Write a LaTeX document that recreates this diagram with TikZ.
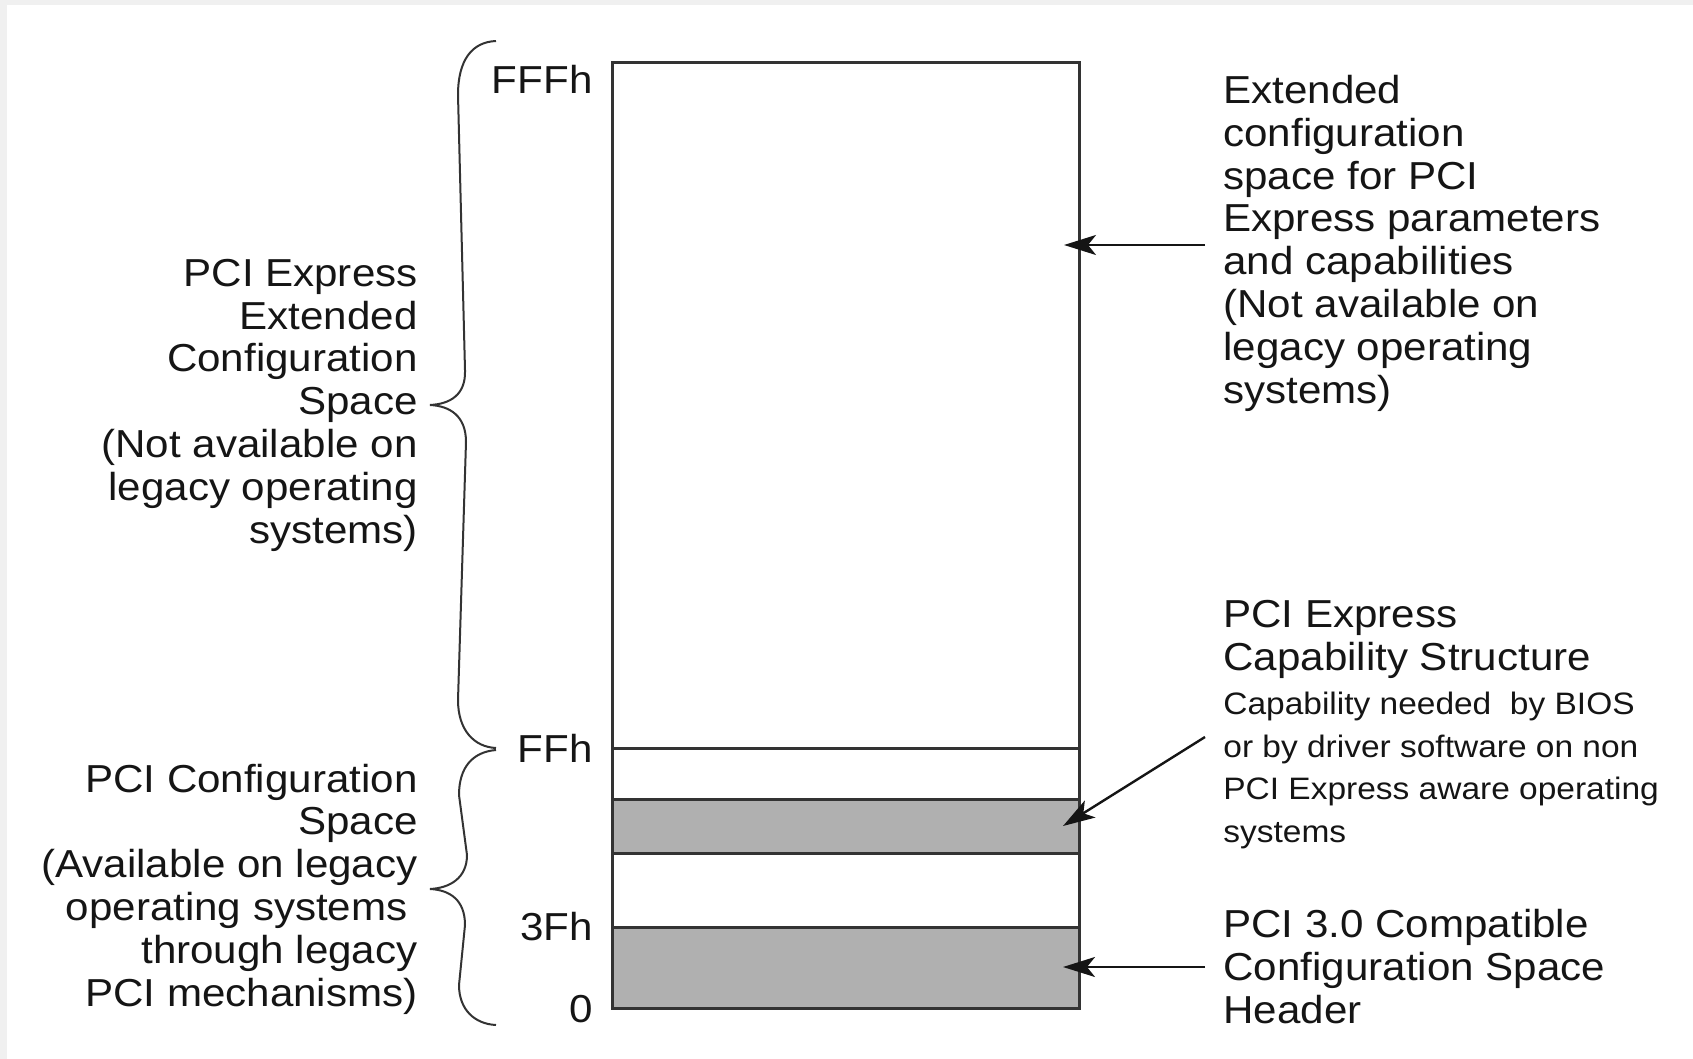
\documentclass[tikz,border=0pt]{standalone}
\usepackage{fontspec}
\setmainfont{Liberation Sans}
\newfontfamily\bigfont{Liberation Sans}[FakeStretch=1.08]
\usetikzlibrary{arrows.meta}
\definecolor{txt}{HTML}{151515}
\definecolor{ln}{HTML}{333333}
\definecolor{cellgray}{HTML}{B0B0B0}
\definecolor{edge}{HTML}{F0F0F0}
\tikzset{
  bigtxt/.style={inner sep=0pt, text=txt, font=\bigfont\fontsize{19.5pt}{21.4pt}\selectfont},
  smalltxt/.style={inner sep=0pt, text=txt, font=\bigfont\fontsize{15.5pt}{21.25pt}\selectfont},
  boxline/.style={draw=ln, line width=1.5pt},
  bracepath/.style={draw=ln, line width=1pt},
  pointer/.style={draw=txt, line width=1.2pt, -{Stealth[length=16pt,width=10pt,inset=4pt]}}
}
\begin{document}
\begin{tikzpicture}[x=0.5pt,y=-0.5pt]
\useasboundingbox (0,0) rectangle (1693,1059);
\fill[edge] (0,0) rectangle (7,1059);
\fill[edge] (0,0) rectangle (1693,5);

% memory map box
\fill[cellgray] (612,799) rectangle (1079,853);
\fill[cellgray] (612,927) rectangle (1079,1008);
\draw[boxline] (612,63) rectangle (1079,1008);
\draw[boxline] (612,748) -- (1079,748);
\draw[boxline] (612,799) -- (1079,799);
\draw[boxline] (612,853) -- (1079,853);
\draw[boxline] (612,927) -- (1079,927);

% address labels
\node[bigtxt, anchor=base east] (fffh) at (593,94) {FFFh};
\node[bigtxt, anchor=base east] (ffh) at (593,762) {FFh};
\node[bigtxt, anchor=base east] (3fh) at (593,940) {3Fh};
\node[bigtxt, anchor=base east] (zero) at (593,1022) {0};

% braces
\draw[bracepath] (496,41) .. controls (472,42) and (458,60) .. (458,95)
  -- (465,370) .. controls (466,395) and (450,404) .. (430,405)
  .. controls (450,406) and (466,416) .. (466,442)
  -- (458,700) .. controls (458,730) and (474,747) .. (496,748);
\draw[bracepath] (496,750) .. controls (472,752) and (459,768) .. (459,795)
  -- (467,855) .. controls (467,878) and (450,888) .. (430,889)
  .. controls (450,890) and (465,900) .. (465,925)
  -- (459,985) .. controls (459,1010) and (475,1024) .. (496,1025);

% left labels (anchored at the baseline of the last line)
\node[bigtxt, anchor=base east, align=right] (extlabel) at (418,543)
  {PCI Express\\Extended\\Configuration\\Space\\(Not available on\\legacy operating\\systems)};
\node[bigtxt, anchor=base east, align=right] (pcilabel) at (418,1006)
  {PCI Configuration\\Space\\(Available on legacy\\operating systems\hspace*{5pt}\mbox{}\\through legacy\\PCI mechanisms)};

% right labels
\node[bigtxt, anchor=base west, align=left] (exttext) at (1223,403)
  {Extended\\configuration\\space for PCI\\Express parameters\\and capabilities\\(Not available on\\legacy operating\\systems)};
\node[bigtxt, anchor=base west, align=left] (captitle) at (1223,670)
  {PCI Express\\Capability Structure};
\node[smalltxt, anchor=base west, align=left] (capdesc) at (1223,842)
  {Capability needed\ \ by BIOS\\or by driver software on non\\PCI Express aware operating\\systems};
\node[bigtxt, anchor=base west, align=left] (hdrtext) at (1223,1023)
  {PCI 3.0 Compatible\\Configuration Space\\Header};

% arrows
\coordinate (startA) at (1205,245);
\coordinate (tipA) at (1064,245);
\coordinate (startB) at (1205,737);
\coordinate (tipB) at (1063,826);
\coordinate (startC) at (1205,967);
\coordinate (tipC) at (1063,967);
\draw[pointer] (startA) -- (tipA);
\draw[pointer] (startB) -- (tipB);
\draw[pointer] (startC) -- (tipC);
\end{tikzpicture}
\end{document}
